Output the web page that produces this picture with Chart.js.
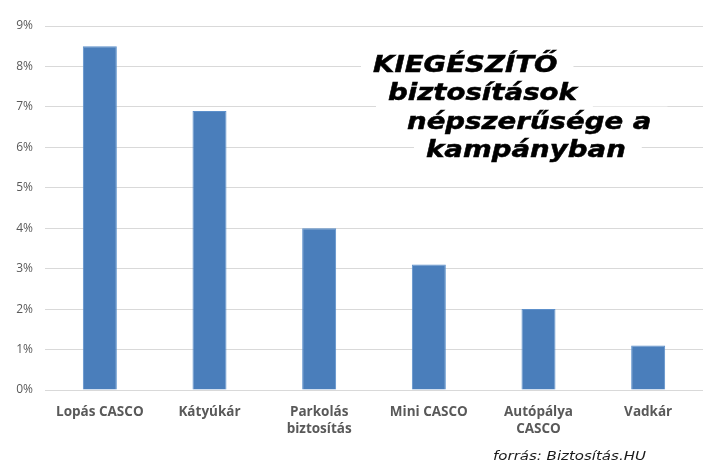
<!DOCTYPE html>
<html>
<head>
<meta charset="utf-8">
<script src="https://cdn.jsdelivr.net/npm/chart.js@4"></script>
<style>
  html, body { margin: 0; padding: 0; background: #fff; }
  #wrap { width: 716px; height: 472px; position: relative; }
</style>
</head>
<body>
<div id="wrap"><canvas id="myChart" width="716" height="472"></canvas></div>
<script>
// categories (multi-line labels) and values in percent
const categories = [
    ['Lopás CASCO'],
    ['Kátyúkár'],
    ['Parkolás', 'biztosítás'],
    ['Mini CASCO'],
    ['Autópálya', 'CASCO'],
    ['Vadkár']
];
const values = [8.5, 6.9, 4.0, 3.1, 2.0, 1.1];
const titleLines = ['KIEGÉSZÍTŐ', 'biztosítások', 'népszerűsége a', 'kampányban'];
const sourceText = 'forrás: Biztosítás.HU';

const ctx = document.getElementById('myChart');

// title box + source note drawn on top of the chart
// (the original text is a bit wider than DejaVu, so it gets stretched)
const overlayText = {
    id: 'overlayText',
    afterDraw(chart) {
        const c = chart.ctx;
        const sx = 1.2;
        c.save();
        c.font = 'italic bold 23px "DejaVu Sans"';
        c.textBaseline = 'alphabetic';
        const starts = [373, 388, 407, 426];
        titleLines.forEach((t, i) => {
            const base = 72 + i * 28.3;
            const w = c.measureText(t).width * sx;
            c.fillStyle = '#fff';
            c.fillRect(starts[i] - 12, base - 22, w + 28, 29);
        });
        c.fillStyle = '#000';
        c.strokeStyle = '#000';
        c.lineWidth = 0.5;
        titleLines.forEach((t, i) => {
            c.save();
            c.translate(starts[i], 72 + i * 28.3);
            c.scale(sx, 1);
            c.fillText(t, 0, 0);
            c.strokeText(t, 0, 0);
            c.restore();
        });

        c.font = 'italic 12.5px "DejaVu Sans"';
        c.fillStyle = '#1a1a1a';
        c.translate(493, 460);
        c.scale(1.2, 1);
        c.fillText(sourceText, 0, 0);
        c.restore();
    }
};

new Chart(ctx, {
    type: 'bar',
    data: {
        labels: categories,
        datasets: [{
            data: values,
            backgroundColor: '#4a7ebb',
            borderColor: '#5d90cb',
            borderWidth: 1,
            categoryPercentage: 1,
            barPercentage: 0.31
        }]
    },
    options: {
        responsive: false,
        animation: false,
        layout: { padding: { top: 26, right: 13, left: 0, bottom: 0 } },
        plugins: {
            legend: { display: false },
            tooltip: { enabled: false }
        },
        scales: {
            x: {
                grid: { display: false },
                border: { display: false },
                ticks: {
                    color: '#595959',
                    font: { family: 'Open Sans', size: 13.5, weight: 'bold', lineHeight: 1.25 },
                    padding: 6,
                    maxRotation: 0
                },
                afterFit: s => { s.height = 82; }
            },
            y: {
                min: 0,
                max: 9,
                grid: { color: '#d9d9d9', drawTicks: false },
                border: { display: false },
                ticks: {
                    stepSize: 1,
                    color: '#595959',
                    font: { family: 'Open Sans', size: 12 },
                    padding: 12,
                    callback: v => v + '%'
                },
                afterFit: s => { s.width = 45; }
            }
        }
    },
    plugins: [overlayText]
});
</script>
</body>
</html>
